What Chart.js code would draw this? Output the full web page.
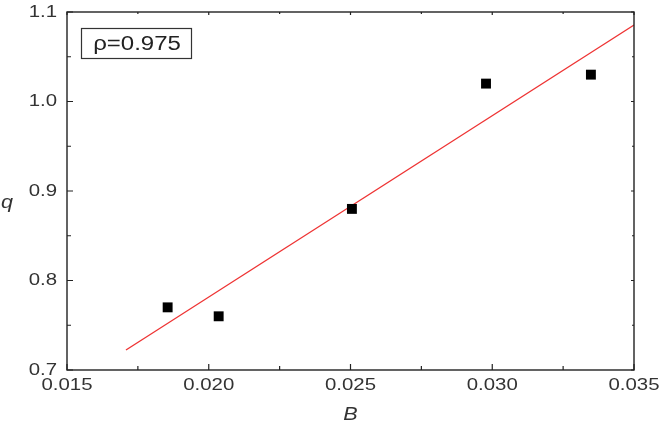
<!DOCTYPE html>
<html>
<head>
<meta charset="utf-8">
<script src="https://cdn.jsdelivr.net/npm/chart.js@4/dist/chart.umd.min.js"></script>
<style>
  html, body { margin: 0; padding: 0; background: #fff; }
  #wrap { width: 664px; height: 426px; }
</style>
</head>
<body>
<div id="wrap"><canvas id="grafico" width="664" height="426"></canvas></div>
<script>
// dados
const valoresB = [0.01855, 0.02035, 0.02505, 0.02978, 0.03348];
const valoresQ = [0.770, 0.760, 0.880, 1.020, 1.030];
const ajusteB = [0.01708, 0.035];
const ajusteQ = [0.7223, 1.0855];
const ticksB = [0.015, 0.020, 0.025, 0.030, 0.035];
const ticksQ = [0.7, 0.8, 0.9, 1.0, 1.1];
const rotulo = "ρ=0.975";

const fonte = "'Liberation Sans', Arial, sans-serif";

// texto um pouco esticado na horizontal, como no original
function texto(ctx, s, x, y, tam, alinha, italico) {
    ctx.save();
    ctx.font = (italico ? "italic " : "") + tam + "px " + fonte;
    ctx.textAlign = alinha;
    ctx.textBaseline = "middle";
    ctx.translate(x, y);
    ctx.scale(1.2, 1);
    ctx.fillText(s, 0, 0);
    ctx.restore();
}

/* ticks para dentro, moldura, rotulos e caixa do rho */
const moldura = {
    id: "moldura",
    afterDraw(chart) {
        const ctx = chart.ctx;
        const a = chart.chartArea;
        const sx = chart.scales.x, sy = chart.scales.y;
        ctx.save();
        ctx.strokeStyle = "#222";
        ctx.lineWidth = 1.4;
        ctx.strokeRect(a.left, a.top, a.right - a.left, a.bottom - a.top);

        ctx.lineWidth = 1.2;
        ctx.beginPath();
        ticksB.forEach((v, i) => {
            const px = sx.getPixelForValue(v);
            ctx.moveTo(px, a.bottom); ctx.lineTo(px, a.bottom - 6);
            ctx.moveTo(px, a.top); ctx.lineTo(px, a.top + 3);
            if (i < ticksB.length - 1) {
                const m = sx.getPixelForValue((v + ticksB[i + 1]) / 2);
                ctx.moveTo(m, a.bottom); ctx.lineTo(m, a.bottom - 4);
                ctx.moveTo(m, a.top); ctx.lineTo(m, a.top + 2);
            }
        });
        ticksQ.forEach((v, i) => {
            const py = sy.getPixelForValue(v);
            ctx.moveTo(a.left, py); ctx.lineTo(a.left + 6, py);
            ctx.moveTo(a.right, py); ctx.lineTo(a.right - 3, py);
            if (i < ticksQ.length - 1) {
                const m = sy.getPixelForValue((v + ticksQ[i + 1]) / 2);
                ctx.moveTo(a.left, m); ctx.lineTo(a.left + 4, m);
                ctx.moveTo(a.right, m); ctx.lineTo(a.right - 2, m);
            }
        });
        ctx.stroke();

        // rotulos dos eixos
        ctx.fillStyle = "#333";
        ticksB.forEach(v => {
            texto(ctx, v.toFixed(3), sx.getPixelForValue(v), a.bottom + 15, 17, "center");
        });
        ticksQ.forEach(v => {
            texto(ctx, v.toFixed(1), a.left - 10, sy.getPixelForValue(v), 17, "right");
        });
        texto(ctx, "B", (a.left + a.right) / 2, 415, 18, "center", true);
        texto(ctx, "q", 7, 203, 18, "center", true);

        // caixa do coeficiente
        ctx.lineWidth = 1.2;
        ctx.strokeStyle = "#333";
        ctx.strokeRect(81.5, 28.5, 110, 30);
        ctx.fillStyle = "#222";
        texto(ctx, rotulo, 137, 44, 20, "center");
        ctx.restore();
    }
};

new Chart(document.getElementById("grafico"), {
    type: "scatter",
    data: {
        datasets: [{
            label: "ajuste",
            data: ajusteB.map((b, i) => ({ x: b, y: ajusteQ[i] })),
            showLine: true,
            borderColor: "#ee3333",
            borderWidth: 1.3,
            pointRadius: 0,
            fill: false,
            order: 2
        }, {
            label: "dados",
            data: valoresB.map((b, i) => ({ x: b, y: valoresQ[i] })),
            pointStyle: "rect",
            pointRadius: 7,
            backgroundColor: "#000",
            borderColor: "#000",
            borderWidth: 0,
            order: 1
        }]
    },
    options: {
        responsive: false,
        animation: false,
        layout: { padding: { top: 12, right: 30, left: 0, bottom: 0 } },
        plugins: { legend: { display: false }, tooltip: { enabled: false } },
        scales: {
            x: {
                type: "linear",
                min: 0.015, max: 0.035,
                afterBuildTicks: s => { s.ticks = ticksB.map(v => ({ value: v })); },
                afterFit: s => { s.height = 56; },
                grid: { display: false, drawTicks: false },
                border: { display: false },
                ticks: { display: false }
            },
            y: {
                type: "linear",
                min: 0.7, max: 1.1,
                afterBuildTicks: s => { s.ticks = ticksQ.map(v => ({ value: v })); },
                afterFit: s => { s.width = 67; },
                grid: { display: false, drawTicks: false },
                border: { display: false },
                ticks: { display: false }
            }
        }
    },
    plugins: [moldura]
});
</script>
</body>
</html>
